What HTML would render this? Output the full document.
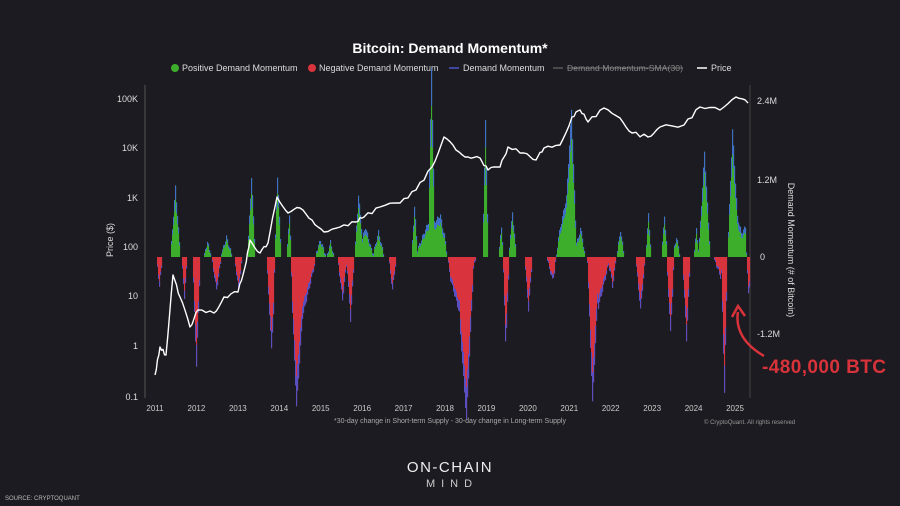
<!DOCTYPE html>
<html><head><meta charset="utf-8"><style>
html,body{margin:0;padding:0;background:#1b1b21;}
svg{display:block;font-family:"Liberation Sans",sans-serif;}
</style></head><body>
<svg id="s" width="900" height="506" viewBox="0 0 900 506" xmlns="http://www.w3.org/2000/svg">
<rect width="900" height="506" fill="#1b1b21"/>
<text x="450" y="53" text-anchor="middle" fill="#fff" font-size="14" font-weight="bold">Bitcoin: Demand Momentum*</text>
<g font-size="9" fill="#ddd">
<circle cx="175" cy="68" r="4" fill="#3dae2b"/><text x="182" y="71">Positive Demand Momentum</text>
<circle cx="312" cy="68" r="4" fill="#d9343d"/><text x="319" y="71">Negative Demand Momentum</text>
<line x1="449" y1="68" x2="459" y2="68" stroke="#4a55c8" stroke-width="1.5"/><text x="463" y="71">Demand Momentum</text>
<line x1="553" y1="68" x2="563" y2="68" stroke="#777" stroke-width="1"/><text x="567" y="71" fill="#888" font-size="8.5" textLength="116">Demand Momentum-SMA(30)</text>
<line x1="567" y1="68" x2="683" y2="68" stroke="#888" stroke-width="0.8"/>
<line x1="697" y1="68" x2="707" y2="68" stroke="#fff" stroke-width="1.5"/><text x="711" y="71">Price</text>
</g>
<line x1="145" y1="85" x2="145" y2="398" stroke="#555" stroke-width="1"/>
<line x1="750" y1="85" x2="750" y2="398" stroke="#444" stroke-width="1"/>
<g font-size="9" fill="#ddd" text-anchor="end">
<text x="138" y="102">100K</text><text x="138" y="151">10K</text><text x="138" y="201">1K</text>
<text x="138" y="250">100</text><text x="138" y="299">10</text><text x="138" y="349">1</text><text x="138" y="400">0.1</text>
</g>
<g font-size="9" fill="#ddd">
<text x="757" y="104">2.4M</text><text x="757" y="183">1.2M</text><text x="760" y="260">0</text><text x="757" y="337">-1.2M</text>
</g>
<text transform="translate(113,240) rotate(-90)" text-anchor="middle" font-size="9" fill="#ddd">Price ($)</text>
<text transform="translate(788,250) rotate(90)" text-anchor="middle" font-size="9" fill="#ddd">Demand Momentum (# of Bitcoin)</text>
<g id="bars"></g>
<polyline id="price" fill="none" stroke="#fff" stroke-width="1.4" stroke-linejoin="round"/>
<g id="years" font-size="8" fill="#ccc" text-anchor="middle"></g>
<text x="450" y="423" text-anchor="middle" font-size="7" fill="#aaa">*30-day change in Short-term Supply - 30-day change in Long-term Supply</text>
<text x="704" y="424" font-size="6" fill="#999">© CryptoQuant. All rights reserved</text>
<path d="M764,356 C745,345 735,330 738,312" fill="none" stroke="#d8323a" stroke-width="2.5"/>
<path d="M732,317 L738,306 L745,316" fill="none" stroke="#d8323a" stroke-width="2.5"/>
<text x="762" y="373" font-size="19" font-weight="bold" fill="#d8323a" textLength="124">-480,000 BTC</text>
<text x="450" y="472" text-anchor="middle" font-size="15" fill="#eee" letter-spacing="1.5">ON-CHAIN</text>
<text x="452" y="487" text-anchor="middle" font-size="11" fill="#ccc" letter-spacing="6">MIND</text>
<text x="5" y="500" font-size="6" fill="#bbb">SOURCE: CRYPTOQUANT</text>
</svg>
<script>
var NS="http://www.w3.org/2000/svg";
var yg=document.getElementById("years");
for(var i=0;i<15;i++){var t=document.createElementNS(NS,"text");t.setAttribute("x",155+i*41.43);t.setAttribute("y",411);t.textContent=2011+i;yg.appendChild(t);}
var sp=[[175,70,5],[207,15,4],[226,20,6],[251,80,4],[277,80,4],[289,44,3],[320,17,6],[330,15,4],[358,59,4],[365,30,8],[378,25,6],[414,50,3],[431,159,3],[428,35,14],[440,37,10],[485,135,3],[502,40,4],[512,45,4],[571,112,5],[566,60,12],[580,30,5],[620,27,4],[648,42,3],[664,42,3],[676,20,4],[696,27,3],[704,105,6],[732,107,5],[737,40,10],[745,22,4],
[159,-30,3],[184,-40,3],[196,-110,4],[216,-33,5],[238,-33,4],[271,-93,5],[296,-116,6],[302,-60,14],[342,-43,5],[350,-63,4],[392,-33,4],[466,-126,7],[460,-60,16],[505,-93,4],[528,-53,4],[552,-23,6],[592,-121,5],[598,-50,12],[612,-30,4],[640,-53,5],[670,-76,4],[686,-83,4],[724,-126,3],[720,-20,7],[748,-43,3]];
var bg=document.getElementById("bars"),h="";
for(var x=155;x<=749;x+=1){var v=0;for(var k=0;k<sp.length;k++){var d=Math.abs(x-sp[k][0])/sp[k][2];if(d<1)v+=sp[k][1]*(1-d);}
if(Math.abs(v)>4)v+=Math.sin(x*1.7)*2;
if(Math.abs(v)<2)continue;
var a=Math.abs(v),tip=Math.max(2,a*0.2);
if(v>0){h+='<rect x="'+x+'" y="'+(257-a)+'" width="1.1" height="'+a+'" fill="#3dae2b"/><rect x="'+x+'" y="'+(257-a)+'" width="1.1" height="'+tip+'" fill="#3f6fc8"/>';}
else{h+='<rect x="'+x+'" y="257" width="1.1" height="'+a+'" fill="#d9343d"/><rect x="'+x+'" y="'+(257+a-tip)+'" width="1.1" height="'+tip+'" fill="#5a4fc0"/>';}
}
bg.innerHTML=h;
var p=[[155,375],[160,347],[166,355],[173,275],[180,297],[190,327],[198,310],[214,313],[224,297],[238,292],[245,267],[250,240],[260,253],[268,243],[277,197],[288,213],[300,208],[312,220],[324,232],[340,227],[356,222],[364,217],[380,207],[400,203],[416,190],[432,167],[444,137],[456,150],[468,157],[480,158],[488,170],[500,167],[508,147],[524,153],[536,160],[544,148],[560,145],[572,117],[580,110],[588,122],[604,108],[620,118],[632,133],[648,137],[660,127],[684,125],[700,107],[720,110],[736,97],[748,103]];
var s="";for(var i=0;i<p.length-1;i++){for(var j=0;j<4;j++){var t=j/4;var xx=p[i][0]+(p[i+1][0]-p[i][0])*t;var yy=p[i][1]+(p[i+1][1]-p[i][1])*t+(j?Math.sin(xx*2.3)*1.8:0);s+=xx.toFixed(1)+","+yy.toFixed(1)+" ";}}
s+=p[p.length-1].join(",");
document.getElementById("price").setAttribute("points",s);
</script>
</body></html>
